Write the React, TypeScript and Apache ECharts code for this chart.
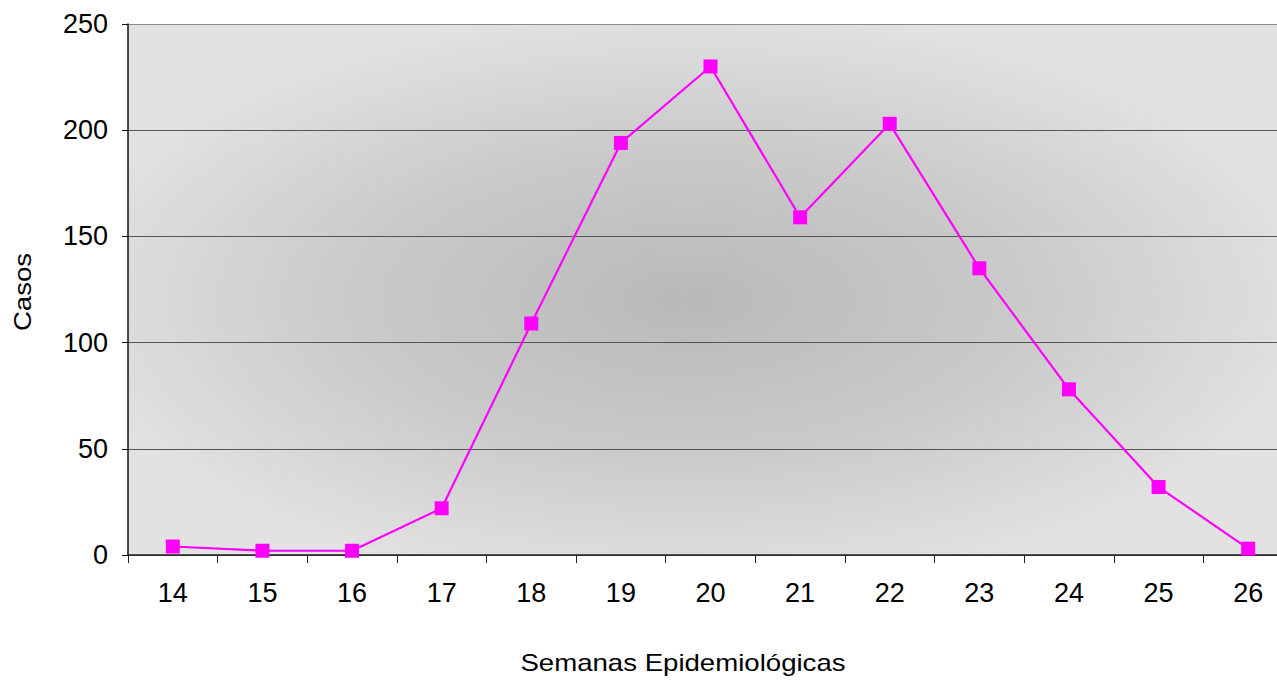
import React, { useEffect, useRef } from "react";
import * as echarts from "echarts";

const semanas: string[] = ["14", "15", "16", "17", "18", "19", "20", "21", "22", "23", "24", "25", "26"];
const casos: number[] = [4, 2, 2, 22, 109, 194, 230, 159, 203, 135, 78, 32, 3];
const yTicks = { min: 0, max: 250, interval: 50 };
const xTitle = "Semanas Epidemiológicas";
const yTitle = "Casos";

export default function App() {
  const ref = useRef<HTMLDivElement>(null);
  useEffect(() => {
    document.body.style.margin = "0";
    document.body.style.overflow = "hidden";
    document.documentElement.style.overflow = "hidden";
    if (!ref.current) return;
    const chart = echarts.init(ref.current, null, { renderer: "svg" });
    const font = "Arial, 'Liberation Sans', sans-serif";
    chart.setOption({
      animation: false,
      backgroundColor: "#ffffff",
      textStyle: { fontFamily: font },
      grid: {
        left: 128,
        top: 24,
        right: 0,
        bottom: 127,
        show: true,
        borderWidth: 0,
        backgroundColor: {
          type: "radial",
          x: 0.48,
          y: 0.52,
          r: 0.55,
          colorStops: [
            { offset: 0, color: "#b9b9b9" },
            { offset: 0.5, color: "#c9c9c9" },
            { offset: 1, color: "#e2e2e2" },
          ],
        },
      },
      xAxis: {
        type: "category",
        data: semanas,
        boundaryGap: true,
        axisLine: { show: true, lineStyle: { color: "#222", width: 1.5 } },
        axisTick: { show: true, length: 8, alignWithLabel: false, lineStyle: { color: "#222" } },
        axisLabel: { color: "#000", fontSize: 27, margin: 24, fontFamily: font },
        splitLine: { show: false },
      },
      yAxis: {
        type: "value",
        min: yTicks.min,
        max: yTicks.max,
        interval: yTicks.interval,
        axisLine: { show: true, lineStyle: { color: "#111", width: 1.5 } },
        axisTick: { show: true, length: 6, lineStyle: { color: "#111" } },
        axisLabel: { color: "#000", fontSize: 27, margin: 20, fontFamily: font },
        splitLine: {
          show: true,
          lineStyle: { color: ["#555", "#555", "#555", "#555", "#555", "#8a8a8a"], width: 1 },
        },
      },
      graphic: [
        {
          type: "text",
          x: 683,
          y: 663,
          scaleX: 1.2,
          style: {
            text: xTitle,
            fontSize: 23,
            fontFamily: font,
            fill: "#000",
            align: "center",
            verticalAlign: "middle",
          },
        },
        {
          type: "text",
          x: 23,
          y: 292,
          rotation: Math.PI / 2,
          scaleX: 1.15,
          style: {
            text: yTitle,
            fontSize: 24,
            fontFamily: font,
            fill: "#000",
            align: "center",
            verticalAlign: "middle",
          },
        },
      ],
      series: [
        {
          type: "line",
          data: casos,
          symbol: "rect",
          symbolSize: 14,
          lineStyle: { color: "#ff00ff", width: 2.2 },
          itemStyle: { color: "#ff00ff" },
        },
      ],
    });
    return () => chart.dispose();
  }, []);
  return <div ref={ref} style={{ width: "1293px", height: "682px" }} />;
}
